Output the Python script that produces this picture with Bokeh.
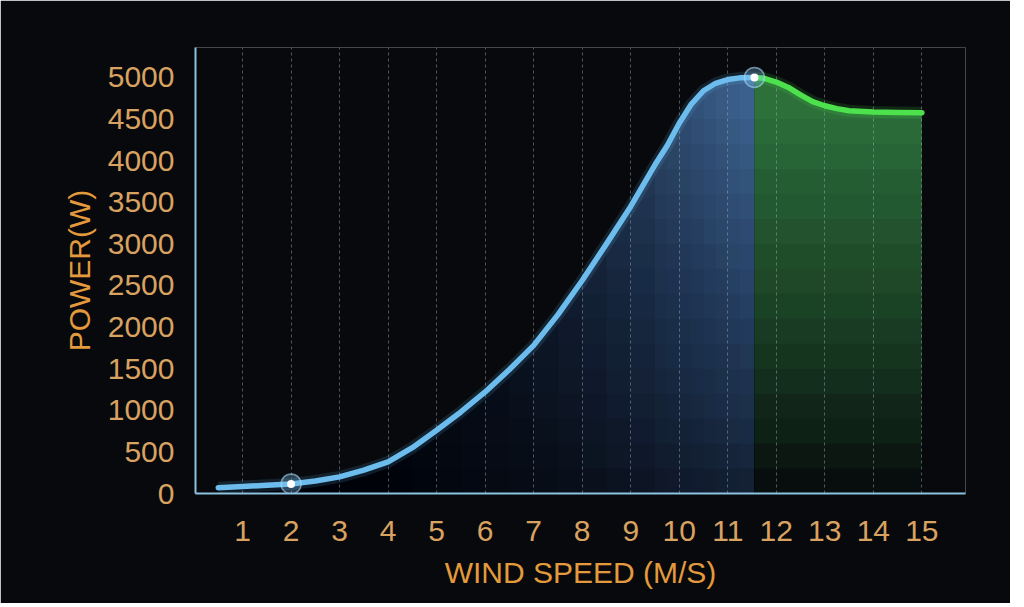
from bokeh.plotting import figure
from bokeh.models import Range1d, FixedTicker, ColumnDataSource
from bokeh.embed import file_html
from bokeh.resources import INLINE

# power curve (wind speed m/s -> power W)
blue_x = [0.5, 1, 1.5, 2, 2.5, 3, 3.5, 4, 4.5, 5, 5.5, 6, 6.5, 7, 7.5, 8, 8.5, 9,
          9.5, 9.75, 10, 10.25, 10.5, 10.75, 11, 11.25, 11.55]
blue_w = [70, 85, 98, 115, 150, 200, 280, 380, 550, 760, 980, 1220, 1490, 1780, 2150,
          2560, 3000, 3450, 3950, 4180, 4450, 4680, 4840, 4930, 4975, 4995, 5000]
green_x = [11.55, 11.75, 12, 12.25, 12.5, 12.75, 13, 13.25, 13.5, 14, 14.5, 15]
green_w = [5000, 4990, 4945, 4880, 4790, 4710, 4660, 4625, 4600, 4585, 4580, 4575]
marker_x = [2, 11.55]
marker_w = [115, 5000]

x_ticks = [1, 2, 3, 4, 5, 6, 7, 8, 9, 10, 11, 12, 13, 14, 15]
y_ticks = [0, 500, 1000, 1500, 2000, 2500, 3000, 3500, 4000, 4500, 5000]

BG = "#08090c"
ORANGE = "#e39a3c"
TICK_ORANGE = "#d9a261"
FONT = "Liberation Sans"

p = figure(width=1010, height=603, x_range=Range1d(0.03, 15.9), y_range=Range1d(0, 5360),
           output_backend="svg", toolbar_location=None,
           min_border_left=195, min_border_right=45, min_border_top=47, min_border_bottom=110)
p.background_fill_color = BG
p.border_fill_color = BG
p.outline_line_color = None


def under(xs, ws, top=None):
    # polygon from 0 up to the curve (or up to `top`, whichever is lower)
    hi = list(ws) if top is None else [min(top, w) for w in ws]
    return list(xs) + list(xs[::-1]), hi + [0] * len(xs)


shade = dict(xs=[], ys=[], color=[], alpha=[])


def add(poly, color, alpha):
    shade["xs"].append(poly[0])
    shade["ys"].append(poly[1])
    shade["color"].append(color)
    shade["alpha"].append(alpha)


# blue fill fades in from the left: stacked bands, each starting a bit further right
prev = 0.0
for k in range(4, len(blue_x) - 1):
    target = 0.8 * min(1.0, (blue_x[k] - 2) / 9.2) ** 1.6
    add(under(blue_x[k:], blue_w[k:]), "#4e7fb2", 1 - (1 - target) / (1 - prev))
    prev = target

add(under(green_x, green_w), "#3c984c", 0.72)


# both fills darken toward the bottom: dark layers from 0 up to each top
def blue_keep(y):
    return 0.35 + 0.65 * min(1.0, y / 4500) ** 0.9


def green_keep(y):
    return 0.08 + 0.92 * min(1.0, y / 4500) ** 0.8


tops = [300 * i for i in range(1, 16)]
for i, t in enumerate(tops):
    lower = t - 300
    add(under(blue_x, blue_w, t), BG, 1 - blue_keep(lower) / blue_keep(t))
    add(under(green_x, green_w, t), BG, 1 - green_keep(lower) / green_keep(t))

p.patches("xs", "ys", source=ColumnDataSource(shade), fill_color="color",
          fill_alpha="alpha", line_color=None, level="image")

# curve with a soft glow
p.line(blue_x, blue_w, line_width=12, color="#5fb4e8", alpha=0.15, line_join="round")
p.line(blue_x, blue_w, line_width=5.5, color="#6cbdee", line_join="round", line_cap="round")
p.line(green_x, green_w, line_width=12, color="#44e044", alpha=0.15, line_join="round")
p.line(green_x, green_w, line_width=5.5, color="#4de24d", line_join="round", line_cap="round")

p.scatter(marker_x, marker_w, size=20, fill_color="#7fc4f0", fill_alpha=0.3,
          line_color="#a8d8f5", line_alpha=0.6, line_width=1.5)
p.scatter(marker_x, marker_w, size=8, fill_color="white", line_color=None)

# dashed vertical grid
p.xgrid.ticker = FixedTicker(ticks=x_ticks)
p.xgrid.grid_line_color = "#a8b4c0"
p.xgrid.grid_line_alpha = 0.45
p.xgrid.grid_line_dash = "3 3"
p.xgrid.grid_line_width = 1
p.ygrid.grid_line_color = None

for ax in (p.xaxis[0], p.yaxis[0]):
    ax.axis_line_color = "#8cc4e0"
    ax.axis_line_width = 2
    ax.major_tick_line_color = None
    ax.minor_tick_line_color = None
    ax.major_label_text_color = TICK_ORANGE
    ax.major_label_text_font = FONT
    ax.major_label_text_font_size = "30px"
    ax.axis_label_text_color = ORANGE
    ax.axis_label_text_font = FONT
    ax.axis_label_text_font_size = "30px"
    ax.axis_label_text_font_style = "normal"

p.xaxis.ticker = FixedTicker(ticks=x_ticks)
p.yaxis.ticker = FixedTicker(ticks=y_ticks)
p.xaxis.axis_label = "WIND SPEED (M/S)"
p.yaxis.axis_label = "POWER(W)"
p.xaxis.major_label_standoff = 21
p.xaxis.axis_label_standoff = 12
p.yaxis.major_label_standoff = 15
p.yaxis.axis_label_standoff = 9

open("out.html", "w").write(file_html(p, INLINE))
